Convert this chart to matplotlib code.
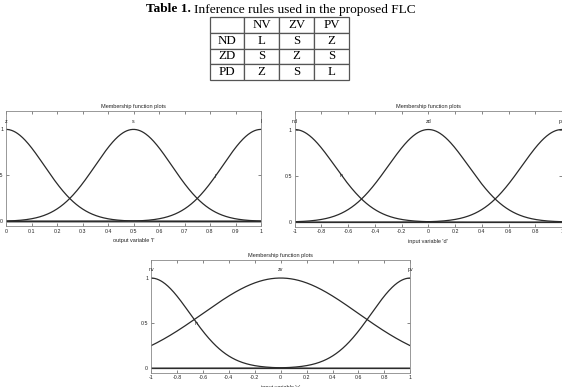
import numpy as np
import matplotlib
matplotlib.use("Agg")
import matplotlib.pyplot as plt

# ---------------- data ----------------
table_title_bold = "Table 1."
table_title_rest = "Inference rules used in the proposed FLC"
table_cols = ["", "NV", "ZV", "PV"]
table_rows = ["ND", "ZD", "PD"]
table_vals = [["L", "S", "Z"],
              ["S", "Z", "S"],
              ["Z", "S", "L"]]

# Gaussian membership-function parameters (MATLAB gaussmf: sigma, center)
out_names = ["z", "s", "l"]
out_centers = [0.0, 0.5, 1.0]
out_sigmas = [0.15, 0.15, 0.15]
out_range = [0.0, 1.0]
out_xticks = [0, 0.1, 0.2, 0.3, 0.4, 0.5, 0.6, 0.7, 0.8, 0.9, 1]

d_names = ["nd", "zd", "pd"]
d_centers = [-1.0, 0.0, 1.0]
d_sigmas = [0.30, 0.30, 0.30]
d_range = [-1.0, 1.0]

v_names = ["nv", "zv", "pv"]
v_centers = [-1.0, 0.0, 1.0]
v_sigmas = [0.30, 0.60, 0.30]
v_range = [-1.0, 1.0]

in_xticks = [-1, -0.8, -0.6, -0.4, -0.2, 0, 0.2, 0.4, 0.6, 0.8, 1]
yticks = [0, 0.5, 1]
ytick_labels = ["0", "0.5", "1"]

W, H = 562, 387
fig = plt.figure(figsize=(W / 100, H / 100), dpi=100)
fig.patch.set_facecolor("white")

serif = ["Liberation Serif", "DejaVu Serif"]
sans = ["Liberation Sans", "DejaVu Sans"]

# ---------------- table ----------------
fig.text(191 / W, 1 - 9.5 / H, table_title_bold, ha="right", va="center",
         fontsize=9.6, fontweight="bold", family=serif)
fig.text(194 / W, 1 - 9.5 / H, table_title_rest, ha="left", va="center",
         fontsize=9.6, family=serif)

tax = fig.add_axes([209.5 / W, 1 - 80 / H, 139.5 / W, 62.7 / H])
tax.axis("off")
cell_text = [table_cols] + [[r] + v for r, v in zip(table_rows, table_vals)]
tbl = tax.table(cellText=cell_text, bbox=[0, 0, 1, 1], cellLoc="center")
tbl.auto_set_font_size(False)
for (r, c), cell in tbl.get_celld().items():
    cell.set_edgecolor("#555555")
    cell.set_linewidth(0.9)
    cell.get_text().set_fontsize(9.3)
    cell.get_text().set_fontfamily(serif)

# ---------------- membership plots ----------------
def gaussmf(x, sigma, c):
    return np.exp(-((x - c) ** 2) / (2 * sigma ** 2))


def mf_plot(rect, xr, names, centers, sigmas, xticks, xlabel, extra,
            zero_color, zero_lw):
    ax = fig.add_axes(rect)
    x = np.linspace(xr[0], xr[1], 400)
    ax.plot(xr, [0, 0], color=zero_color, lw=zero_lw, solid_capstyle="butt",
            zorder=1)
    for n, c, s in zip(names, centers, sigmas):
        ax.plot(x, gaussmf(x, s, c), color="#2a2a2a", lw=0.9, zorder=2)
        ax.text(c, 1.09, n, ha="center", va="center", fontsize=3.8,
                family=sans, color="#222222")
    ex, ey, et = extra
    ax.text(ex, ey, et, ha="center", va="center", fontsize=3.8,
            family=sans, color="#222222")
    ax.set_xlim(xr)
    ax.set_ylim(-0.05, 1.2)
    ax.set_xticks(xticks)
    ax.set_xticklabels(["%g" % t for t in xticks])
    ax.set_yticks(yticks)
    ax.set_yticklabels(ytick_labels)
    ax.tick_params(direction="in", length=2.5, width=0.5, top=True,
                   right=True, labelsize=3.8, colors="#555555",
                   labelcolor="#222222", pad=2)
    for lbl in ax.get_xticklabels() + ax.get_yticklabels():
        lbl.set_fontfamily(sans)
    for sp in ax.spines.values():
        sp.set_color("#888888")
        sp.set_linewidth(0.6)
    ax.set_title("Membership function plots", fontsize=4, family=sans,
                 pad=2.5, color="#222222")
    ax.set_xlabel(xlabel, fontsize=4, family=sans, labelpad=3,
                  color="#222222")
    return ax


mf_plot([6 / W, 1 - 226 / H, 255 / W, 115 / H], out_range, out_names,
        out_centers, out_sigmas, out_xticks, "output variable 'I'",
        (0.82, 0.49, "l"), "#999999", 2.0)

mf_plot([294.7 / W, 1 - 226.7 / H, 267.3 / W, 115.7 / H], d_range, d_names,
        d_centers, d_sigmas, in_xticks, "input variable 'd'",
        (-0.65, 0.5, "n"), "#333333", 0.9)

mf_plot([151 / W, 1 - 372.7 / H, 259.3 / W, 112.7 / H], v_range, v_names,
        v_centers, v_sigmas, in_xticks, "input variable 'v'",
        (-0.65, 0.5, "n"), "#333333", 0.9)

fig.savefig("out.png", dpi=100, facecolor="white")
